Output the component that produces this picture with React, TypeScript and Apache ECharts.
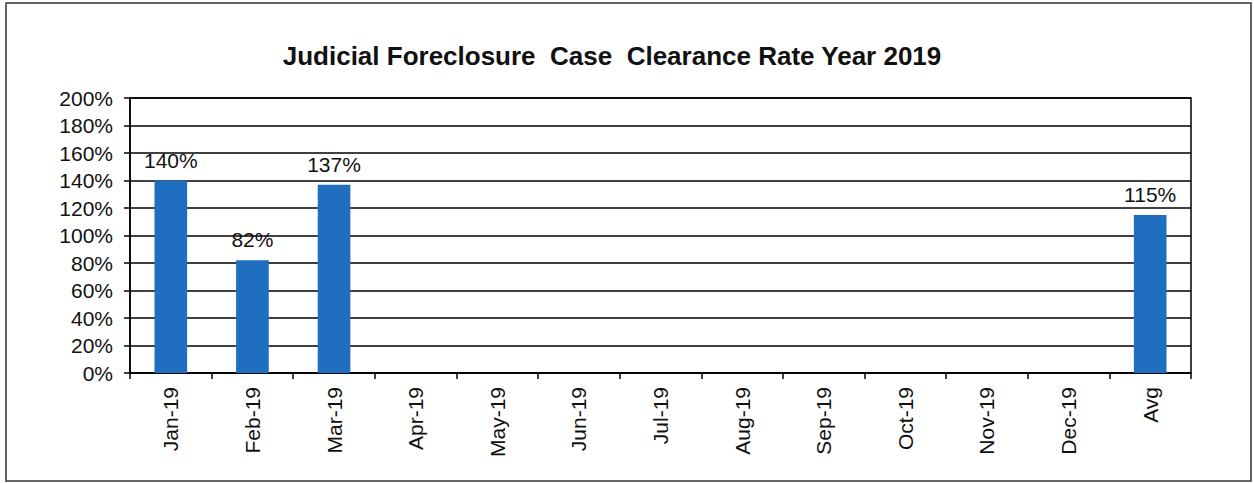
import React, { useEffect, useRef } from "react";
import * as echarts from "echarts";

const categories = ["Jan-19", "Feb-19", "Mar-19", "Apr-19", "May-19", "Jun-19", "Jul-19", "Aug-19", "Sep-19", "Oct-19", "Nov-19", "Dec-19", "Avg"];
const clearanceRate: (number | null)[] = [140, 82, 137, null, null, null, null, null, null, null, null, null, 115];
const yTicks = { min: 0, max: 200, interval: 20 };
const titleText = "Judicial Foreclosure  Case  Clearance Rate Year 2019";

export default function App() {
  const ref = useRef<HTMLDivElement>(null);
  useEffect(() => {
    if (!ref.current) return;
    const chart = echarts.init(ref.current, undefined, { renderer: "svg" });
    const font = "'Liberation Sans', Arial, sans-serif";
    chart.setOption({
      animation: false,
      backgroundColor: "#ffffff",
      title: {
        text: titleText,
        left: 607,
        top: 38,
        textAlign: "center",
        textStyle: { fontFamily: font, fontSize: 26, fontWeight: "bold", color: "#111" },
      },
      graphic: [
        {
          type: "rect",
          shape: { x: 6, y: 3, width: 1245, height: 478 },
          style: { fill: "none", stroke: "#333", lineWidth: 1.5 },
          silent: true,
        },
      ],
      grid: {
        left: 130,
        right: 63,
        top: 98,
        bottom: 110,
        show: true,
        borderColor: "#000",
        borderWidth: 1.5,
      },
      xAxis: {
        type: "category",
        data: categories,
        axisLine: { lineStyle: { color: "#000", width: 1.5 } },
        axisTick: { show: true, alignWithLabel: false, length: 6, lineStyle: { color: "#000", width: 1.5 } },
        axisLabel: { rotate: 90, margin: 14, fontFamily: font, fontSize: 21, color: "#111" },
      },
      yAxis: {
        type: "value",
        min: yTicks.min,
        max: yTicks.max,
        interval: yTicks.interval,
        axisLine: { show: true, lineStyle: { color: "#000", width: 1.5 } },
        axisTick: { show: true, length: 6, lineStyle: { color: "#000", width: 1.5 } },
        splitLine: { show: true, lineStyle: { color: "#000", width: 1.5 } },
        axisLabel: { formatter: "{value}%", margin: 17, fontFamily: font, fontSize: 21, color: "#111" },
      },
      series: [
        {
          type: "bar",
          data: clearanceRate,
          barWidth: "40%",
          itemStyle: { color: "#1f6ec0" },
          label: {
            show: true,
            position: "top",
            distance: 10,
            formatter: "{c}%",
            fontFamily: font,
            fontSize: 21,
            color: "#111",
          },
        },
      ],
    });
    return () => chart.dispose();
  }, []);
  return <div ref={ref} style={{ position: "absolute", left: 0, top: 0, width: 1254, height: 483 }} />;
}
